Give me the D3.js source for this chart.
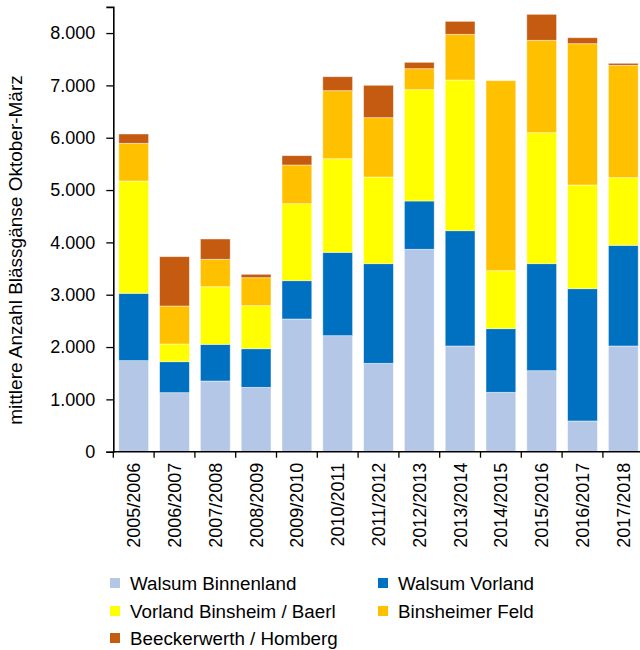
<!DOCTYPE html>
<html>
<head>
<meta charset="utf-8">
<script src="https://cdn.jsdelivr.net/npm/d3@7"></script>
<style>
  html, body { margin: 0; padding: 0; background: #fff; }
  svg { display: block; font-family: "Liberation Sans", Arial, sans-serif; }
</style>
</head>
<body>
<svg id="chart" width="640" height="650"></svg>
<script>
const seasons = ["2005/2006","2006/2007","2007/2008","2008/2009","2009/2010","2010/2011","2011/2012","2012/2013","2013/2014","2014/2015","2015/2016","2016/2017","2017/2018"];
const seriesNames = ["Walsum Binnenland","Walsum Vorland","Vorland Binsheim / Baerl","Binsheimer Feld","Beeckerwerth / Homberg"];
const walsumBinnenland = [1740,1128,1351,1230,2536,2217,1689,3868,2020,1135,1548,587,2020];
const walsumVorland    = [1287, 592, 701, 738, 732,1593,1904, 923,2203,1216,2045,2528,1924];
const vorlandBinsheim  = [2146, 338,1101, 822,1471,1789,1656,2127,2880,1108,2503,1982,1292];
const binsheimerFeld   = [ 720, 726, 524, 535, 740,1300,1134, 401, 873,3631,1766,2700,2148];
const beeckerwerth     = [ 178, 943, 388,  65, 178, 267, 619, 122, 248,   0, 496, 114,  38];
const yTicks = [0,1000,2000,3000,4000,5000,6000,7000,8000];
const colors = ["#B4C7E7","#0070C0","#FFFF00","#FFC000","#C55A11"];

const seriesValues = [walsumBinnenland, walsumVorland, vorlandBinsheim, binsheimerFeld, beeckerwerth];
const rows = seasons.map((s, i) => {
  const r = { season: s };
  seriesNames.forEach((n, k) => r[n] = seriesValues[k][i]);
  return r;
});

const svg = d3.select("#chart");
const x0 = 113.3, yBase = 451.7;
const x = d3.scaleBand().domain(seasons).range([x0, x0 + 13 * 40.8]).paddingInner(0.27).paddingOuter(0.135);
const y = d3.scaleLinear().domain([0, 8500]).range([yBase, yBase - 8500 * 0.05233]);
const fmt = d => d3.format(",")(d).replace(/,/g, ".");

const stack = d3.stack().keys(seriesNames)(rows);
const color = d3.scaleOrdinal().domain(seriesNames).range(colors);

svg.append("g").selectAll("g").data(stack).join("g")
  .attr("fill", d => color(d.key))
  .selectAll("rect").data(d => d).join("rect")
  .attr("x", d => x(d.data.season))
  .attr("width", x.bandwidth())
  .attr("y", d => y(d[1]))
  .attr("height", d => Math.max(0, y(d[0]) - y(d[1])))
  .attr("stroke", "rgba(255,255,255,0.55)")
  .attr("stroke-width", 0.8);

// Y axis
const yAxis = svg.append("g").attr("transform", `translate(${x0},0)`)
  .call(d3.axisLeft(y).tickValues(yTicks).tickFormat(fmt).tickSize(7).tickPadding(11));
yAxis.select(".domain").attr("stroke", "#000").attr("stroke-width", 1.6);
yAxis.selectAll(".tick line").attr("stroke", "#000").attr("stroke-width", 1.3);
yAxis.selectAll("text").attr("font-size", 18).attr("fill", "#000").attr("font-family", "Liberation Sans, Arial, sans-serif");

// X axis: domain line + boundary ticks
const xAxisG = svg.append("g").attr("transform", `translate(0,${yBase})`);
xAxisG.append("line").attr("x1", x0).attr("x2", x.range()[1]).attr("stroke", "#000").attr("stroke-width", 1.6);
const bounds = seasons.map(s => x(s) - x.step() * x.paddingInner() / 2).concat([x.range()[1]]);
xAxisG.selectAll("line.tk").data(bounds).join("line").attr("class", "tk")
  .attr("x1", d => d).attr("x2", d => d).attr("y1", 0).attr("y2", 6)
  .attr("stroke", "#000").attr("stroke-width", 1.3);
xAxisG.selectAll("text").data(seasons).join("text")
  .attr("transform", d => `translate(${x(d) + x.bandwidth() / 2 + 6.5},11) rotate(-90)`)
  .attr("text-anchor", "end")
  .attr("font-size", 18)
  .attr("fill", "#000")
  .text(d => d);

// Y title
svg.append("text")
  .attr("transform", `translate(22,250) rotate(-90)`)
  .attr("text-anchor", "middle")
  .attr("font-size", 19)
  .attr("fill", "#000")
  .text("mittlere Anzahl Blässgänse Oktober-März");

// Legend
const legPos = [[110,583],[378,583],[110,611],[378,611],[110,638]];
const leg = svg.append("g").selectAll("g").data(seriesNames).join("g")
  .attr("transform", (d, i) => `translate(${legPos[i][0]},${legPos[i][1]})`);
leg.append("rect").attr("x", 0).attr("y", -5).attr("width", 10).attr("height", 10).attr("fill", d => color(d));
leg.append("text").attr("x", 20).attr("y", 6.7).attr("font-size", 18.8).attr("fill", "#000").text(d => d);
</script>
</body>
</html>
